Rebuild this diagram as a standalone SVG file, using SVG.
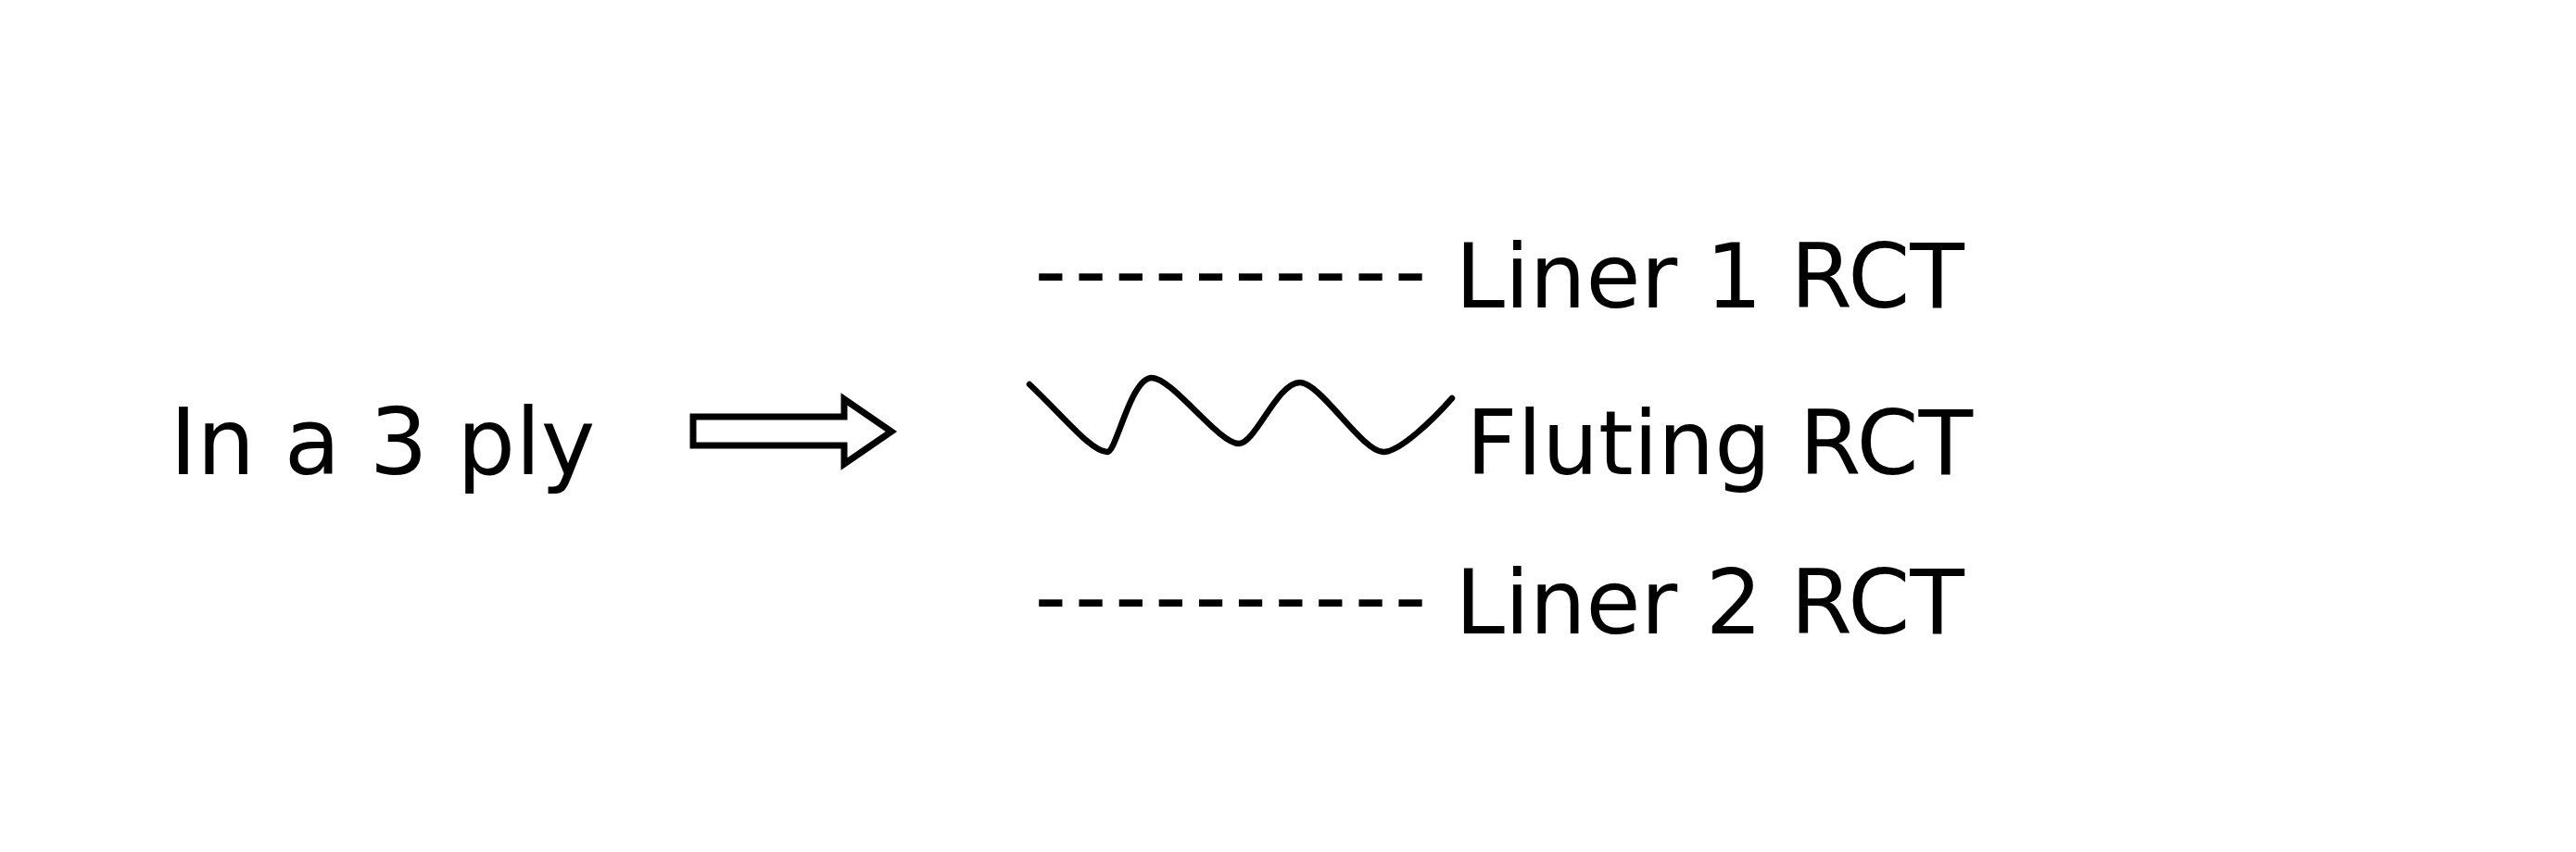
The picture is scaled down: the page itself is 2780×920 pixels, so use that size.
<svg xmlns="http://www.w3.org/2000/svg" width="2780" height="920" viewBox="0 0 2780 920">
  <style>
    .lbl { font-family: "DejaVu Sans", Verdana, sans-serif; fill: #000; }
    .big { font-size: 99px; }
    .med { font-size: 96px; }
    .dash { font-family: "DejaVu Sans", Verdana, sans-serif; font-size: 96px; fill: #000; letter-spacing: 8.5px; }
    .wave { fill: none; stroke: #000; stroke-width: 6.5; stroke-linecap: round; stroke-linejoin: round; }
    .blk { fill: #fff; stroke: #000; stroke-width: 7; stroke-linejoin: miter; stroke-miterlimit: 10; }
  </style>
  <rect width="2780" height="920" fill="#fff"/>

  <g id="node-3ply">
    <text class="lbl big" x="183.3" y="512">In a 3 ply</text>
  </g>

  <g id="connectors">
    <path class="blk" d="M748,450 L911,450 L911,431 L962,466 L911,501 L911,481 L748,481 Z"/>
  </g>

  <g id="node-liner1">
    <text class="dash" x="1116.6" y="326.3">----------</text>
    <text class="lbl med" x="1570.6" y="332">Liner 1 RCT</text>
  </g>

  <g id="node-fluting">
    <path class="wave" d="M1111,415 C1150,452 1178,488 1195,488 C1205,488 1220,408 1243,408 C1265,408 1315,479 1337,479 C1355,479 1378,413 1403,413 C1425,413 1470,488 1493,488 C1510,488 1545,455 1567,430"/>
    <text class="lbl med" x="1582.3" y="512">Fluting RCT</text>
  </g>

  <g id="node-liner2">
    <text class="dash" x="1116.6" y="678.3">----------</text>
    <text class="lbl med" x="1570.6" y="684">Liner 2 RCT</text>
  </g>
</svg>
